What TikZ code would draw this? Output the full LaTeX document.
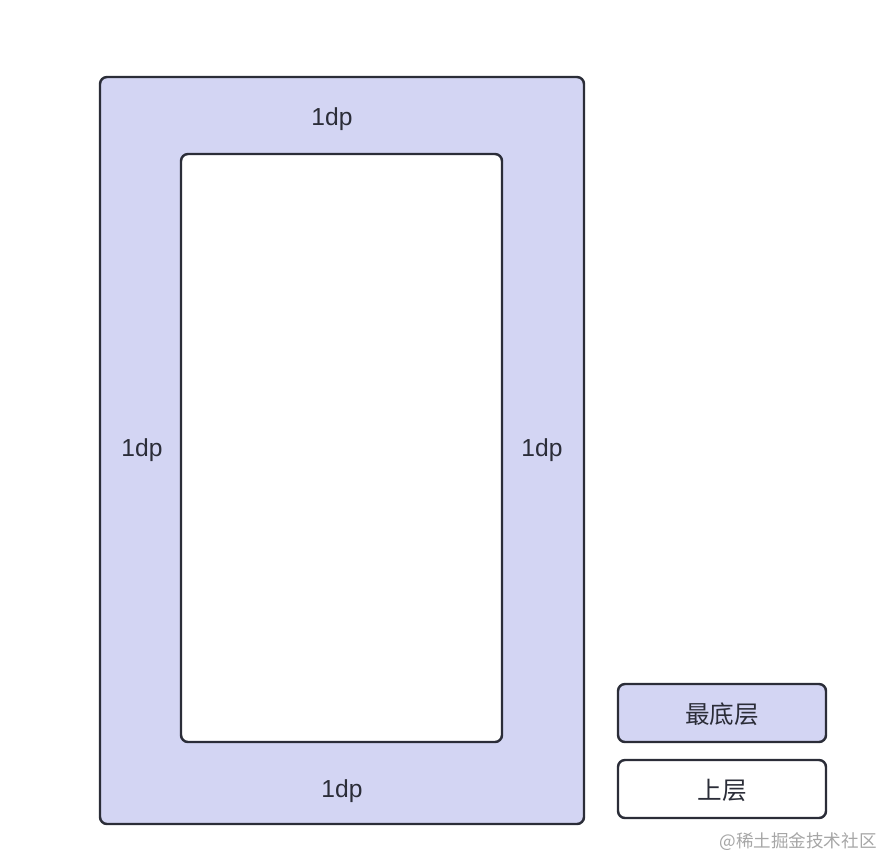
\documentclass[tikz,border=0pt]{standalone}
\usepackage{fontspec}
\setmainfont{Liberation Sans}
\newfontfamily\cjk{Noto Sans CJK SC}
\definecolor{layerfill}{HTML}{D3D5F3}
\definecolor{edge}{HTML}{2B2D38}
\def\px{0.03cm}

\begin{document}
\begin{tikzpicture}[x=\px,y=-\px,
  box/.style={draw=edge, line width=2.1pt, rounded corners=0.21cm},
  dplabel/.style={font=\fontsize{21}{25}\selectfont, text=edge},
  keylabel/.style={font=\cjk\fontsize{21}{25}\selectfont, text=edge}]
\useasboundingbox (0,0) rectangle (884,860);
% bottom layer with the upper layer on it
\draw [box, fill=layerfill] (100,77) rectangle (584,824);
\draw [box, fill=white] (181,154) rectangle (502,742);
\node [dplabel] (top) at (332,119) {1dp};
\node [dplabel] (bottom) at (342,791) {1dp};
\node [dplabel] (left) at (142,450) {1dp};
\node [dplabel] (right) at (542,450) {1dp};
% key
\draw [box, fill=layerfill] (618,684) rectangle (826,742);
\node [keylabel] (lower) at (722,714) {最底层};
\draw [box, fill=white] (618,760) rectangle (826,818);
\node [keylabel] (upper) at (722,790) {上层};
\node [font=\cjk\fontsize{15}{18}\selectfont, text=black!35] (mark) at (798,842) {@稀土掘金技术社区};
\end{tikzpicture}
\end{document}
